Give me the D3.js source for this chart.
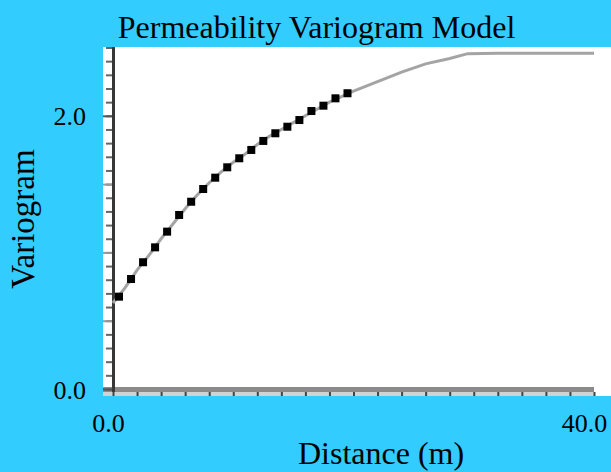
<!DOCTYPE html>
<html>
<head>
<meta charset="utf-8">
<script src="https://cdn.jsdelivr.net/npm/d3@7"></script>
<style>
  html, body { margin: 0; padding: 0; background: #33ccff; }
  svg { display: block; }
  text { font-family: "Liberation Serif", "Times New Roman", serif; fill: #000; }
</style>
</head>
<body>
<svg id="chart" width="611" height="472"></svg>
<script>
// ---- data ----
const title = "Permeability Variogram Model";
const xLabel = "Distance (m)";
const yLabel = "Variogram";
const xTickLabels = [0, 40];
const yTickLabels = [0, 2];
// experimental variogram points
const lagDistances = [0.5, 1.5, 2.5, 3.5, 4.5, 5.5, 6.5, 7.5, 8.5, 9.5, 10.5, 11.5, 12.5, 13.5, 14.5, 15.5, 16.5, 17.5, 18.5, 19.5];
const lagValues = [0.676, 0.805, 0.928, 1.037, 1.152, 1.274, 1.371, 1.464, 1.547, 1.623, 1.689, 1.750, 1.816, 1.872, 1.920, 1.969, 2.035, 2.074, 2.128, 2.165];
// fitted model curve
const modelDistances = [0, 1, 2, 3, 4, 5, 6, 7, 8, 9, 10, 11, 12, 13, 14, 15, 16, 17, 18, 19, 20, 22, 24, 26, 28, 29.5, 32, 36, 40];
const modelValues = [0.63, 0.74, 0.87, 0.98, 1.10, 1.21, 1.32, 1.42, 1.51, 1.59, 1.66, 1.72, 1.79, 1.85, 1.90, 1.95, 2.00, 2.05, 2.10, 2.14, 2.18, 2.25, 2.32, 2.38, 2.42, 2.455, 2.457, 2.457, 2.457];

const svg = d3.select("#chart");

const x = d3.scaleLinear().domain([0, 40]).range([113, 594]);
const y = d3.scaleLinear().domain([0, 2.5]).range([389, 47.5]);

// plot area
svg.append("rect").attr("x", 103).attr("y", 47).attr("width", 508).attr("height", 349).attr("fill", "#fff");

// x axis band
svg.append("rect").attr("x", 103).attr("y", y(0) - 2).attr("width", x(40) - 103).attr("height", 5).attr("fill", "#8a8a8a");
svg.append("rect").attr("x", 103).attr("y", y(0) + 3).attr("width", x(40) - 103).attr("height", 4).attr("fill", "#d2d2d2");

const xMinor = svg.append("g").attr("transform", `translate(0,${y(0) + 3})`)
  .call(d3.axisBottom(x).tickValues(d3.range(0, 41, 2)).tickSize(4).tickSizeOuter(0).tickFormat(""));
xMinor.select(".domain").remove();
xMinor.selectAll("line").attr("stroke", "#444").attr("stroke-width", 2);

// y axis ticks
const yMinor = svg.append("g").attr("transform", `translate(112,0)`)
  .call(d3.axisLeft(y).tickValues(d3.range(0, 26).map(d => d / 10)).tickSize(6).tickSizeOuter(0).tickFormat(""));
yMinor.select(".domain").remove();
yMinor.selectAll("line").attr("stroke", "#666").attr("stroke-width", 2);

const yMid = svg.append("g").attr("transform", `translate(112,0)`)
  .call(d3.axisLeft(y).tickValues([0.5, 1.0, 1.5]).tickSize(9).tickSizeOuter(0).tickFormat(""));
yMid.select(".domain").remove();
yMid.selectAll("line").attr("stroke", "#999").attr("stroke-width", 2);

const yMajor = svg.append("g").attr("transform", `translate(112,0)`)
  .call(d3.axisLeft(y).tickValues(yTickLabels).tickSize(9).tickSizeOuter(0).tickPadding(17).tickFormat(d3.format(".1f")));
yMajor.select(".domain").remove();
yMajor.selectAll("line").attr("stroke", "#555").attr("stroke-width", 2);
yMajor.selectAll("text").style("font-size", "26px").attr("fill", "#000").attr("dy", "0.35em");

// y axis line
svg.append("line").attr("x1", 113.5).attr("x2", 113.5).attr("y1", 47).attr("y2", y(0) + 3)
  .attr("stroke", "#383838").attr("stroke-width", 3);

// x tick labels
const xLab = svg.append("g").attr("transform", `translate(0,${y(0) + 7})`)
  .call(d3.axisBottom(x).tickValues(xTickLabels).tickSize(0).tickPadding(18).tickFormat(d3.format(".1f")));
xLab.select(".domain").remove();
xLab.selectAll("text").style("font-size", "26px").attr("fill", "#000")
  .attr("dx", d => d === 0 ? -5 : -10);

// model line
const line = d3.line().x((d, i) => x(modelDistances[i])).y((d, i) => y(modelValues[i]));
svg.append("path").datum(modelValues).attr("d", line)
  .attr("fill", "none").attr("stroke", "#a4a4a4").attr("stroke-width", 3);

// experimental points
svg.append("g").selectAll("rect").data(lagValues).join("rect")
  .attr("x", (d, i) => x(lagDistances[i]) - 4)
  .attr("y", d => y(d) - 4)
  .attr("width", 8).attr("height", 8).attr("fill", "#000");

// title and labels
svg.append("text").attr("x", 316.5).attr("y", 38).attr("text-anchor", "middle")
  .style("font-size", "32px").text(title);
svg.append("text").attr("x", 381).attr("y", 464).attr("text-anchor", "middle")
  .style("font-size", "32px").text(xLabel);
svg.append("text").attr("transform", "translate(34,219) rotate(-90)").attr("text-anchor", "middle")
  .style("font-size", "33px").text(yLabel);
</script>
</body>
</html>
